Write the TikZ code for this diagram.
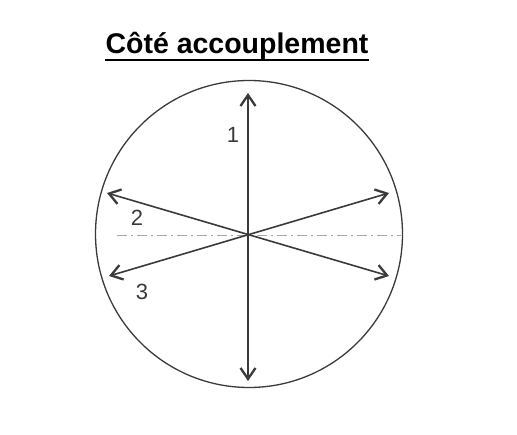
\documentclass[tikz,border=0pt]{standalone}
\usepackage{fontspec}
\setmainfont{Liberation Sans}
\usepackage{tikz}
\usetikzlibrary{arrows.meta, positioning}

\definecolor{pencil}{HTML}{3A3A3A}

\begin{document}
\begin{tikzpicture}[x=1pt, y=-1pt,
    axe/.style={pencil, line width=1.6pt,
      {Straight Barb[length=11pt, width=15pt, line width=2.3pt]}-{Straight Barb[length=11pt, width=15pt, line width=2.3pt]}},
    repere/.style={font=\fontsize{22}{22}\selectfont, text=pencil, inner sep=0pt}]

  \useasboundingbox (0,0) rectangle (517,435);

  \node[font=\bfseries\fontsize{28.5}{28.5}\selectfont, inner sep=0pt, anchor=base] (titre) at (237,53.5)
    {Côté accouplement};
  \draw[line width=2pt] ([yshift=-7pt]titre.base west) -- ([yshift=-7pt]titre.base east);

  \node[draw=pencil, line width=1.3pt, circle, minimum size=307pt, inner sep=0pt] (rond) at (249,234) {};
  \coordinate (o) at (248,235);

  \coordinate (h1) at (248,93);
  \coordinate (b1) at (248,381);
  \coordinate (g2) at (107,193);
  \coordinate (d2) at (389,276);
  \coordinate (g3) at (109,276);
  \coordinate (d3) at (389,193);
  \coordinate (ag) at (117,235);
  \coordinate (ad) at (401,235);

  \draw[gray!70, line width=0.9pt, dash pattern=on 10pt off 4pt on 2pt off 4pt] (ag) -- (ad);

  \path[axe] (h1) edge (b1);
  \path[axe] (g2) edge (d2);
  \path[axe] (g3) edge (d3);

  \node[repere] (n1) at (233,135) {1};
  \node[repere] (n2) at (137,218) {2};
  \node[repere] (n3) at (142,292) {3};

\end{tikzpicture}
\end{document}
